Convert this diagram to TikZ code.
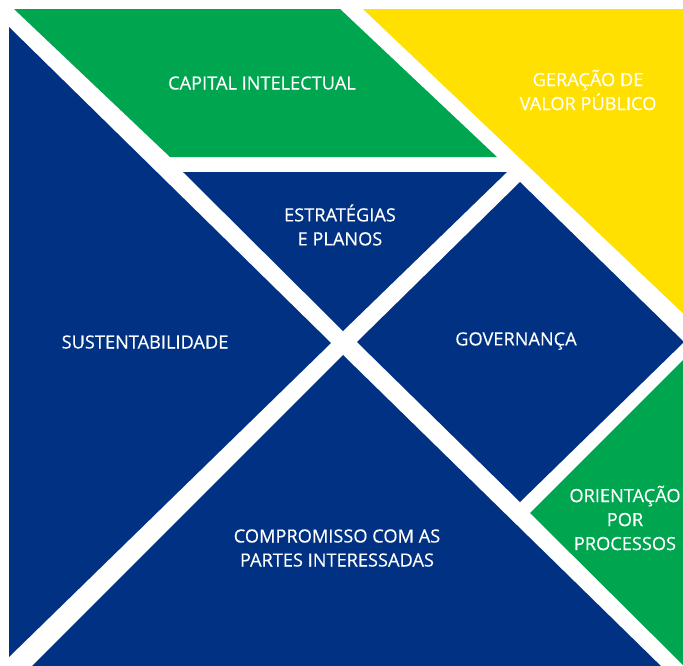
\documentclass[tikz,border=0pt]{standalone}
\usepackage{fontspec}
\setmainfont{Open Sans}
\newfontfamily\lblfont[FakeBold=0.35]{Open Sans}
\definecolor{tblue}{HTML}{013183}
\definecolor{tgreen}{HTML}{00A54F}
\definecolor{tyellow}{HTML}{FFE000}
\begin{document}
\begin{tikzpicture}[x=1pt,y=-1pt,
  lbl/.style={text=white, font=\lblfont\fontsize{18.2}{24}\selectfont, align=center, inner sep=0pt}]
\useasboundingbox (0,0) rectangle (683,665);
\fill[white] (0,0) rectangle (683,665);
\begin{scope}
\clip (0,0) rectangle (683,665);
% Capital intelectual (parallelogram)
\fill[tgreen] (14,9) -- (340,9) -- (497,157) -- (170,157) -- cycle;
% Geracao de valor publico (medium triangle)
\fill[tyellow] (363,9) -- (690,9) -- (690,320) -- cycle;
% Estrategias e planos (small triangle)
\fill[tblue] (183,172) -- (507,172) -- (343,331) -- cycle;
% Governanca (square)
\fill[tblue] (520,182) -- (684,342) -- (520,502) -- (357,342) -- cycle;
% Orientacao por processos (small triangle)
\fill[tgreen] (530,513) -- (690,353) -- (690,672) -- cycle;
% Sustentabilidade (large triangle)
\fill[tblue] (9,27) -- (331,343) -- (9,657) -- cycle;
% Compromisso (large triangle)
\fill[tblue] (343,355) -- (667,672) -- (26,672) -- cycle;
\end{scope}
\node[lbl] (cap) at (262,83) {CAPITAL INTELECTUAL};
\node[lbl] (ger) at (588,90) {GERAÇÃO DE\\VALOR PÚBLICO};
\node[lbl] (est) at (340,225) {ESTRATÉGIAS\\E PLANOS};
\node[lbl] (sus) at (145,342) {SUSTENTABILIDADE};
\node[lbl] (gov) at (516,341) {GOVERNANÇA};
\node[lbl] (ori) at (625,518) {ORIENTAÇÃO\\POR\\PROCESSOS};
\node[lbl] (com) at (337,548) {COMPROMISSO COM AS\\PARTES INTERESSADAS};
\end{tikzpicture}
\end{document}
